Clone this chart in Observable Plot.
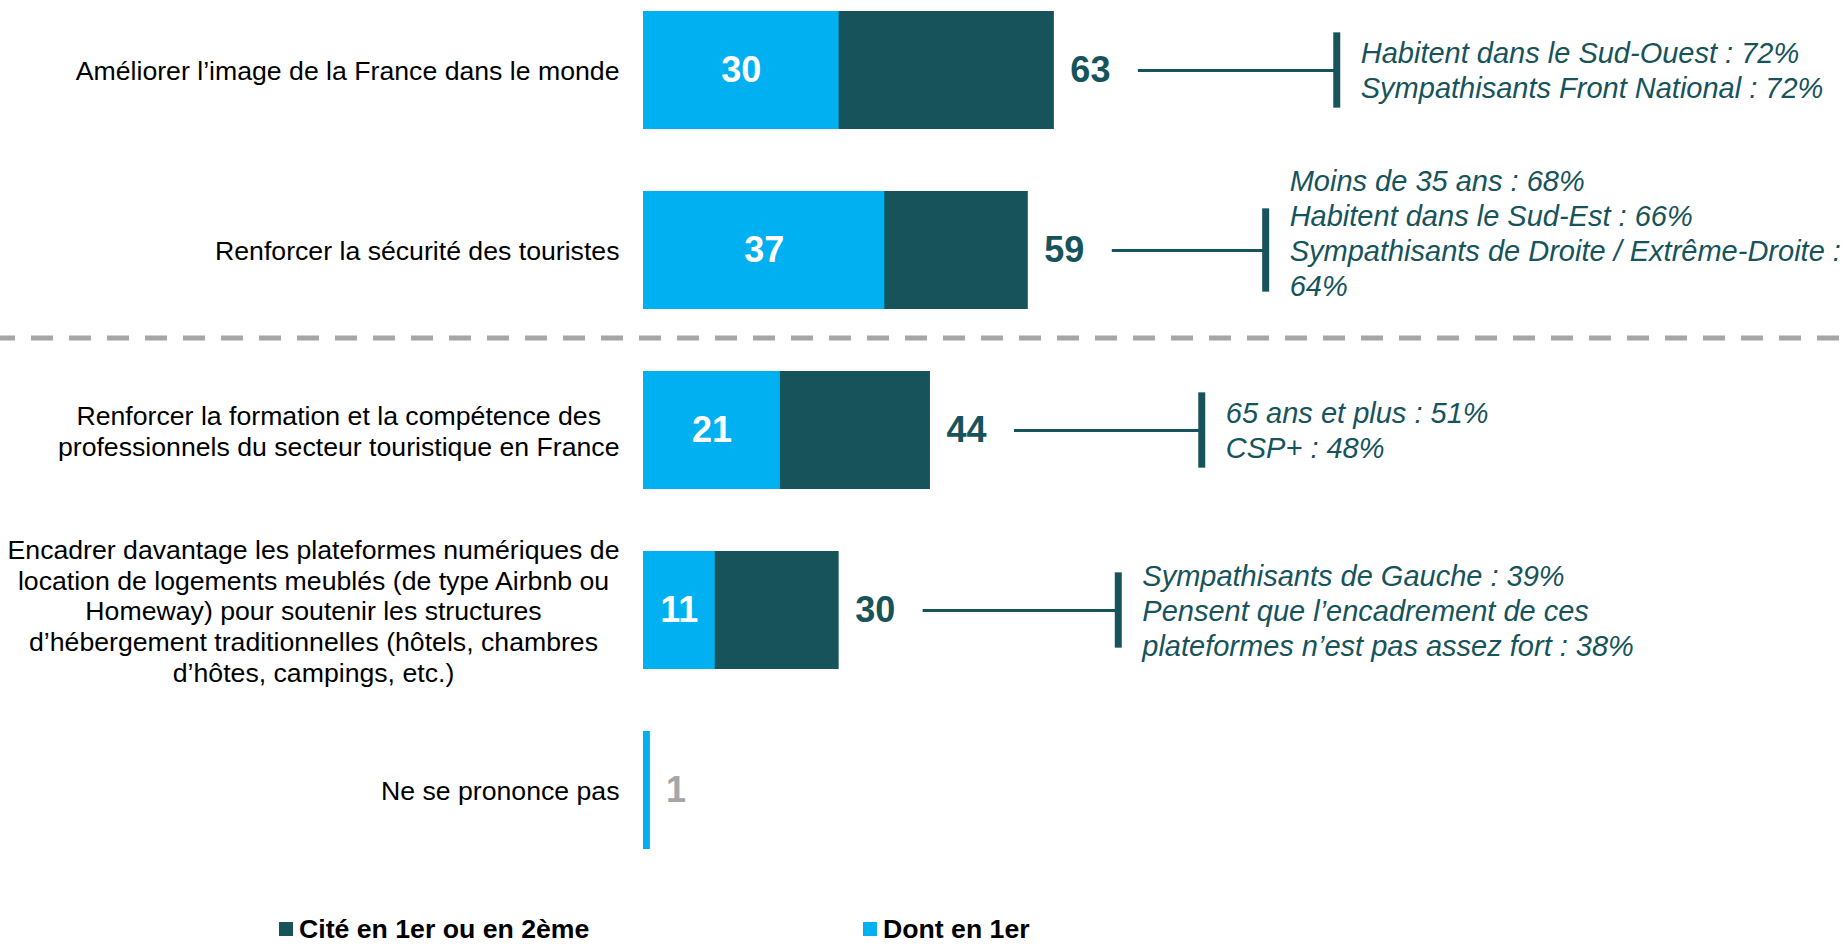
<!DOCTYPE html>
<html>
<head>
<meta charset="utf-8">
<script src="https://cdn.jsdelivr.net/npm/d3@7"></script>
<script src="https://cdn.jsdelivr.net/npm/@observablehq/plot@0.6"></script>
<style>
  body { margin: 0; background: #fff; font-family: Arial, "Liberation Sans", sans-serif; }
  #legend { position: relative; height: 30px; margin-top: 55px; }
  .item { position: absolute; top: 0; display: flex; align-items: center; height: 30px; font-weight: bold; font-size: 26.67px; color: #000; line-height: 30px; }
  .sw { width: 14px; height: 14px; margin-right: 6px; }
</style>
</head>
<body>
<div id="chart"></div>
<div id="legend"></div>
<script>
// ---- data ----
const categories = [
  "Améliorer l’image de la France dans le monde",
  "Renforcer la sécurité des touristes",
  "Renforcer la formation et la compétence des\nprofessionnels du secteur touristique en France",
  "Encadrer davantage les plateformes numériques de\nlocation de logements meublés (de type Airbnb ou\nHomeway) pour soutenir les structures\nd’hébergement traditionnelles (hôtels, chambres\nd’hôtes, campings, etc.)",
  "Ne se prononce pas"
];
const totals = [63, 59, 44, 30, 1];       // Cité en 1er ou en 2ème
const firsts = [30, 37, 21, 11, 1];       // Dont en 1er
const highlights = [
  "Habitent dans le Sud-Ouest : 72%\nSympathisants Front National : 72%",
  "Moins de 35 ans : 68%\nHabitent dans le Sud-Est : 66%\nSympathisants de Droite / Extrême-Droite :\n64%",
  "65 ans et plus : 51%\nCSP+ : 48%",
  "Sympathisants de Gauche : 39%\nPensent que l’encadrement de ces\nplateformes n’est pas assez fort : 38%",
  null
];
const calloutAt = [106.3, 95.4, 85.6, 72.8];  // x position (same units) of each callout bracket
const seriesNames = ["Cité en 1er ou en 2ème", "Dont en 1er"];
const nspLabel = "Ne se prononce pas";

// ---- styles ----
const DARK = "#16535A", LIGHT = "#00B0F0", GREY = "#A6A6A6";
const FONT = "Arial, 'Liberation Sans', sans-serif";
const W = 1845, H = 859, ML = 643, MR = 2, XMAX = 184;
const LABEL_SIZE = 26.67, NOTE_SIZE = 29;
const pxPerUnit = (W - ML - MR) / XMAX;

const rows = categories.map((cat, i) => ({cat, total: totals[i], first: firsts[i], note: highlights[i], at: calloutAt[i]}));
const noted = rows.filter(d => d.note);

// measure label widths to centre multi-line labels in a right-aligned box
const ctx = document.createElement("canvas").getContext("2d");
ctx.font = LABEL_SIZE + "px 'Liberation Sans', Arial";
const labelMarks = rows.map(d => {
  const w = d3.max(d.cat.split("\n"), l => ctx.measureText(l).width);
  return Plot.text([d], {x: () => 0, y: "cat", text: "cat", textAnchor: "middle", lineAnchor: "middle",
    dx: -(24 + w / 2), fontSize: LABEL_SIZE, lineHeight: 30.8 / LABEL_SIZE, fill: "#000", fontFamily: FONT});
});

const noteMarks = noted.map(d => {
  const n = d.note.split("\n").length;
  const lh = 35;
  const inset = (117.7 - (n > 3 ? 83 : 75)) / 2;
  return [
    Plot.tickX([d], {x: "at", y: "cat", stroke: DARK, strokeWidth: 7, insetTop: inset, insetBottom: inset}),
    Plot.text([d], {x: "at", y: "cat", text: "note", textAnchor: "start", lineAnchor: "middle",
      dx: 24, dy: -Math.max(0, n - 3) * lh / 2 - 1, fontSize: NOTE_SIZE, lineHeight: lh / NOTE_SIZE, fontStyle: "italic",
      fill: DARK, fontFamily: FONT})
  ];
});

const chart = Plot.plot({
  width: W, height: H,
  marginLeft: ML, marginRight: MR, marginTop: 0, marginBottom: 0,
  style: {fontFamily: FONT, background: "#fff"},
  x: {domain: [0, XMAX], axis: null},
  y: {domain: categories, axis: null, paddingInner: 0.346, paddingOuter: 0.059, align: 0.5},
  marks: [
    Plot.barX(rows, {x: "total", y: "cat", fill: DARK}),
    Plot.barX(rows, {x: "first", y: "cat", fill: LIGHT}),
    Plot.text(rows.filter(d => d.first >= 5), {x: d => d.first / 2, y: "cat", text: d => String(d.first),
      fill: "#fff", fontWeight: "bold", fontSize: 36, lineAnchor: "middle", fontFamily: FONT}),
    Plot.text(rows.filter(d => d.cat !== nspLabel), {x: "total", y: "cat", text: d => String(d.total), dx: 16,
      textAnchor: "start", fill: DARK, fontWeight: "bold", fontSize: 36, lineAnchor: "middle", fontFamily: FONT}),
    Plot.text(rows.filter(d => d.cat === nspLabel), {x: "total", y: "cat", text: d => String(d.total), dx: 16,
      textAnchor: "start", fill: GREY, fontWeight: "bold", fontSize: 36, lineAnchor: "middle", fontFamily: FONT}),
    Plot.ruleY(noted, {y: "cat", x1: d => d.total + 84 / pxPerUnit, x2: "at", stroke: DARK, strokeWidth: 3}),
    ...labelMarks,
    ...noteMarks.flat()
  ]
});
document.getElementById("chart").appendChild(chart);

// dashed separator between the two groups, placed with the plot's y scale
const ys = chart.scale("y");
const ySep = ys.apply(categories[2]) - (ys.step - ys.bandwidth) / 2 - 2;
d3.select(chart).append("line")
  .attr("x1", 0).attr("x2", W).attr("y1", ySep).attr("y2", ySep)
  .attr("stroke", GREY).attr("stroke-width", 5)
  .attr("stroke-dasharray", "22,16").attr("stroke-dashoffset", 7);

// legend
const legend = d3.select("#legend");
[[seriesNames[0], DARK, 279], [seriesNames[1], LIGHT, 863]].forEach(([name, col, left]) => {
  const it = legend.append("div").attr("class", "item").style("left", left + "px");
  it.append("div").attr("class", "sw").style("background", col);
  it.append("span").text(name);
});
</script>
</body>
</html>
